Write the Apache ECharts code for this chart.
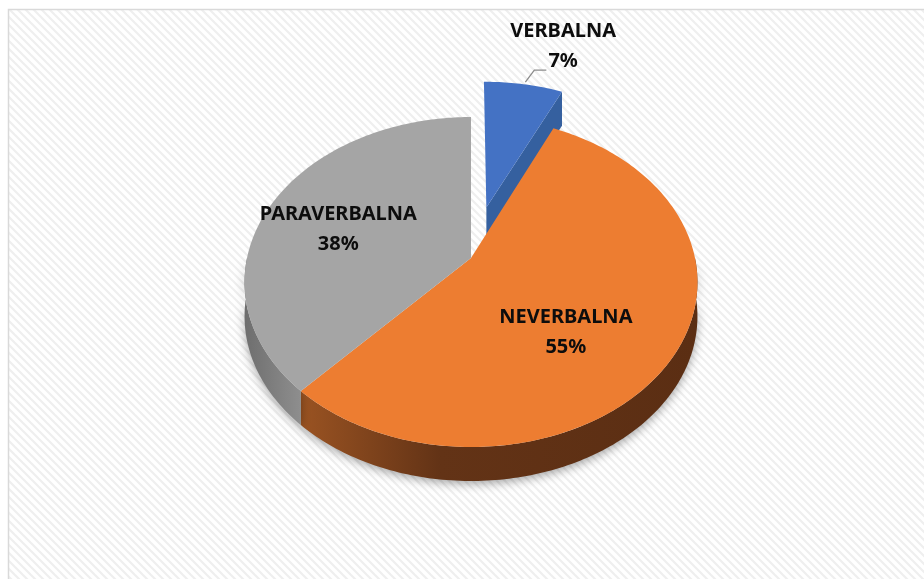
<!DOCTYPE html>
<html>
<head>
<meta charset="utf-8">
<script src="https://cdn.jsdelivr.net/npm/echarts@6/dist/echarts.min.js"></script>
<style>
  html, body { margin: 0; padding: 0; background: #fff; }
  #main { width: 924px; height: 579px; }
</style>
</head>
<body>
<div id="main"></div>
<script>
// podaci
const categories = ['VERBALNA', 'NEVERBALNA', 'PARAVERBALNA']
const values = [7, 55, 38]
const percentLabels = ['7%', '55%', '38%']

// stil
const topColors = ['#4472c4', '#ed7d31', '#a5a5a5']
const cutColors = ['#35609f', '#b4581c', '#7f7f7f']
const explode = [0.33, 0, 0]
const labelRadius = [1.4, 0.62, 0.62]
const labelShift = [[29, -1], [-26, 14], [-8, 8]]

// geometrija "3D" elipse s malo perspektive
const cx = 471, cy = 282, rx = 224, ry = 165, depth = 34
const persp = 0.15, lift = 0.145
const total = values.reduce((a, b) => a + b, 0)

// u, v normalizirane koordinate (v = -1 straga, +1 sprijeda)
function project(u, v) {
  return [cx + rx * u * (1 + persp * v), cy + ry * (v - lift * (1 - v * v))]
}
function pt(theta, r, du, dv) {
  const t = theta * Math.PI / 180
  return project(du + r * Math.sin(t), dv - r * Math.cos(t))
}
function arc(a, b, du, dv, dy) {
  const pts = []
  const n = Math.max(2, Math.ceil(Math.abs(b - a)))
  for (let k = 0; k <= n; k++) {
    const p = pt(a + (b - a) * k / n, 1, du, dv)
    pts.push([p[0], p[1] + (dy || 0)])
  }
  return pts
}

function sideFill(i) {
  if (i === 1) {
    return { type: 'linear', x: 0, y: 0, x2: 1, y2: 0, colorStops: [
      { offset: 0, color: '#9a5322' }, { offset: 0.35, color: '#633316' }, { offset: 1, color: '#5b2e13' }] }
  }
  if (i === 2) {
    return { type: 'linear', x: 0, y: 0, x2: 1, y2: 0, colorStops: [
      { offset: 0, color: '#6e6e6e' }, { offset: 1, color: '#8e8e8e' }] }
  }
  return '#2f5597'
}

function renderItem(params, api) {
  const i = params.dataIndex
  let start = 0
  for (let k = 0; k < i; k++) start += values[k] / total * 360
  const end = start + api.value(1) / total * 360
  const mid = (start + end) / 2
  const m = mid * Math.PI / 180
  const du = explode[i] * Math.sin(m)
  const dv = -explode[i] * Math.cos(m)
  const apex = project(du, dv)
  const children = []

  // vanjski bok (vidljiv samo sprijeda)
  const a = Math.max(start, 90), b = Math.min(end, 270)
  if (b > a) {
    const upper = arc(a, b, du, dv, 0)
    const lower = arc(b, a, du, dv, depth)
    children.push({
      type: 'polygon', z2: 2,
      shape: { points: upper.concat(lower) },
      style: { fill: sideFill(i), shadowBlur: 10, shadowColor: 'rgba(0,0,0,0.35)', shadowOffsetY: 3 }
    })
  }
  // rez izvucenog isjecka
  if (explode[i] > 0) {
    const e = pt(end, 1, du, dv)
    children.push({
      type: 'polygon', z2: 1,
      shape: { points: [apex, e, [e[0], e[1] + depth], [apex[0], apex[1] + depth]] },
      style: { fill: cutColors[i] }
    })
  }
  // gornja ploha
  children.push({
    type: 'polygon', z2: 5,
    shape: { points: [apex].concat(arc(start, end, du, dv, 0)) },
    style: { fill: topColors[i] }
  })

  // natpis
  const lp = pt(mid, labelRadius[i], du, dv)
  const lx = lp[0] + labelShift[i][0], ly = lp[1] + labelShift[i][1]
  if (labelRadius[i] > 1) {
    const p1 = pt(mid, 1, du, dv)
    children.push({
      type: 'polyline', z2: 6,
      shape: { points: [[p1[0] + 2, p1[1] - 2], [p1[0] + 11, p1[1] - 14], [p1[0] + 23, p1[1] - 14]] },
      style: { stroke: '#8c8c8c', lineWidth: 1.3, fill: null }
    })
  }
  children.push({
    type: 'text', z2: 10,
    x: lx, y: ly,
    style: {
      text: categories[i] + '\n' + percentLabels[i],
      fill: '#0d0d0d',
      font: 'bold 20px "Noto Sans", sans-serif',
      lineHeight: 30,
      align: 'center',
      verticalAlign: 'middle'
    }
  })
  return { type: 'group', children: children }
}

// pozadina s dijagonalnim prugama
const tile = document.createElement('canvas')
tile.width = 8
tile.height = 8
const g = tile.getContext('2d')
g.fillStyle = '#ffffff'
g.fillRect(0, 0, 8, 8)
g.strokeStyle = '#efefef'
g.lineWidth = 2.2
g.beginPath()
g.moveTo(-2, -2); g.lineTo(10, 10)
g.moveTo(-10, -2); g.lineTo(2, 10)
g.moveTo(6, -2); g.lineTo(18, 10)
g.stroke()

const myChart = echarts.init(document.getElementById('main'))
const option = {
  backgroundColor: '#ffffff',
  animation: false,
  graphic: [
    {
      type: 'rect', z: -10,
      shape: { x: 8.5, y: 9.5, width: 940, height: 600 },
      style: { fill: { image: tile, repeat: 'repeat' }, stroke: '#d9d9d9', lineWidth: 1.5 }
    }
  ],
  series: [
    {
      type: 'custom',
      coordinateSystem: 'none',
      renderItem: renderItem,
      data: values.map((v, i) => [i, v])
    }
  ]
}
myChart.setOption(option)
</script>
</body>
</html>
